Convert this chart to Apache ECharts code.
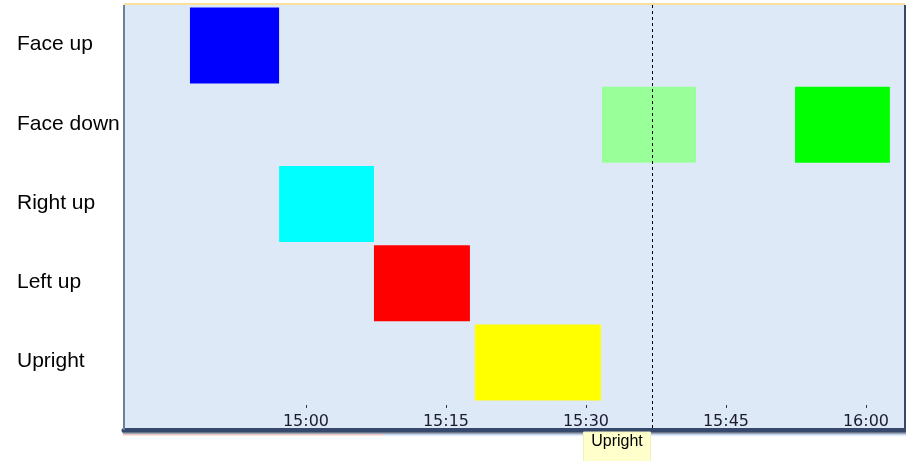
<!DOCTYPE html>
<html>
<head>
<meta charset="utf-8">
<script src="https://cdn.jsdelivr.net/npm/echarts@6/dist/echarts.min.js"></script>
<style>
html,body{margin:0;padding:0;background:#ffffff;}
#chart{width:906px;height:461px;}
</style>
</head>
<body>
<div id="chart"></div>
<script>
// ---- data ----
const categories = ['Face up', 'Face down', 'Right up', 'Left up', 'Upright'];
const segCategory = ['Face up', 'Right up', 'Left up', 'Upright', 'Face down', 'Face down'];
const segStart = ['14:47:34', '14:57:07', '15:07:17', '15:18:06', '15:31:43', '15:52:24'];
const segEnd   = ['14:57:07', '15:07:17', '15:17:34', '15:31:36', '15:41:47', '16:02:34'];
const segColors = ['#0000ff', '#00ffff', '#ff0000', '#ffff00', '#99ff99', '#00ff00'];
const tickLabels = ['15:00', '15:15', '15:30', '15:45', '16:00'];
const axisStart = '14:40:30';
const axisEnd = '16:04:11';
const cursorTime = '15:37:04';
const cursorLabel = 'Upright';

// minutes since 14:00
function toMin(s) {
  const p = s.split(':').map(Number);
  return (p[0] - 14) * 60 + p[1] + (p[2] || 0) / 60;
}
function fmt(m) {
  const h = 14 + Math.floor(m / 60);
  const mm = Math.round(m % 60);
  return h + ':' + (mm < 10 ? '0' : '') + mm;
}

const segData = segCategory.map((c, i) => [categories.indexOf(c), toMin(segStart[i]), toMin(segEnd[i]), i]);
const tickValues = tickLabels.map(toMin);
const xMin = toMin(axisStart), xMax = toMin(axisEnd);

const chart = echarts.init(document.getElementById('chart'));
chart.setOption({
  animation: false,
  backgroundColor: '#ffffff',
  graphic: [
    { type: 'rect', z: -10, shape: { x: 124, y: 5, width: 781, height: 425 }, style: { fill: '#dde9f6' } },
    { type: 'rect', z: -9, shape: { x: 124, y: 3, width: 781, height: 2 }, style: { fill: '#fbdf9d' } },
    { type: 'rect', z: 20, shape: { x: 123, y: 5, width: 2, height: 425 }, style: { fill: '#6f7f9a' } },
    { type: 'rect', z: 20, shape: { x: 904, y: 5, width: 2, height: 425 }, style: { fill: '#34496b' } },
    { type: 'rect', z: 20, shape: { x: 123, y: 432.5, width: 783, height: 1.5 }, style: { fill: '#9aa3b0' } },
    { type: 'rect', z: 20, shape: { x: 123, y: 434, width: 260, height: 1.5 }, style: { fill: '#f2c4c4' } },
    { type: 'rect', z: 20, shape: { x: 383, y: 434, width: 523, height: 1.5 }, style: { fill: '#c2d6f2' } }
  ],
  grid: { left: 124, right: 1, top: 5, height: 396 },
  xAxis: [
    {
      type: 'value', min: xMin, max: xMax, position: 'bottom', offset: 7,
      axisLine: { show: false },
      axisTick: { show: true, inside: true, length: 3, customValues: tickValues, lineStyle: { color: '#333344', width: 1 } },
      axisLabel: { show: false },
      splitLine: { show: false }
    },
    {
      type: 'value', min: xMin, max: xMax, position: 'bottom', offset: 29,
      axisLine: { show: true, lineStyle: { color: '#36496c', width: 5 } },
      axisTick: { show: false },
      axisLabel: {
        show: true, inside: true, margin: 0, customValues: tickValues,
        formatter: v => tickLabels[tickValues.findIndex(t => Math.abs(t - v) < 0.01)] || fmt(v),
        fontFamily: 'DejaVu Sans', fontSize: 16, color: '#1a1a30'
      },
      splitLine: { show: false }
    }
  ],
  yAxis: {
    type: 'category', data: categories, inverse: true,
    axisLine: { show: false }, axisTick: { show: false }, splitLine: { show: false },
    axisLabel: { align: 'left', margin: 107, fontFamily: 'Liberation Sans', fontSize: 21, color: '#000000' }
  },
  series: [
    {
      type: 'custom', xAxisIndex: 0, yAxisIndex: 0,
      data: segData,
      encode: { x: [1, 2], y: 0 },
      renderItem: function (params, api) {
        const cat = api.value(0);
        const s = api.coord([api.value(1), cat]);
        const e = api.coord([api.value(2), cat]);
        const h = api.size([0, 1])[1] * 0.96;
        return {
          type: 'rect',
          shape: { x: s[0], y: s[1] - h / 2 + 1, width: e[0] - s[0], height: h },
          style: { fill: segColors[api.value(3)] }
        };
      }
    },
    {
      type: 'custom', xAxisIndex: 0, yAxisIndex: 0, clip: false, z: 30,
      data: [[toMin(cursorTime), 0]],
      encode: { x: 0, y: 1 },
      renderItem: function (params, api) {
        const cs = params.coordSys;
        const p = api.coord([api.value(0), 0]);
        const x = Math.round(p[0]) + 0.5;
        const bottom = cs.y + cs.height;
        return {
          type: 'group',
          children: [
            { type: 'line', shape: { x1: x, y1: cs.y, x2: x, y2: bottom + 28 },
              style: { stroke: '#000000', lineWidth: 1, lineDash: [3, 3] } },
            { type: 'rect', shape: { x: x - 69, y: bottom + 31, width: 67, height: 32 },
              style: { fill: '#ffffcc', stroke: '#f0f0c0', lineWidth: 1 } },
            { type: 'text', x: x - 35.5, y: bottom + 41,
              style: { text: cursorLabel, fontFamily: 'Liberation Sans', fontSize: 16, fill: '#000000', align: 'center', verticalAlign: 'middle' } }
          ]
        };
      }
    }
  ]
});
</script>
</body>
</html>
